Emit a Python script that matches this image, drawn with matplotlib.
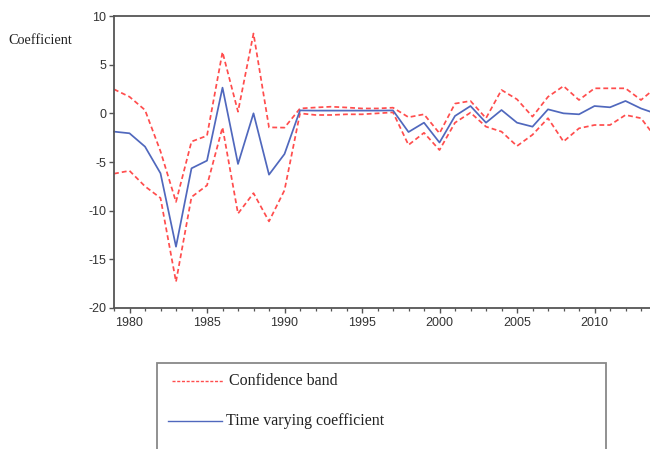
import matplotlib
matplotlib.use('Agg')
import matplotlib.pyplot as plt
from matplotlib.ticker import MultipleLocator
from matplotlib.lines import Line2D
from matplotlib.patches import Rectangle

plt.rcParams['lines.scale_dashes'] = False
plt.rcParams['axes.unicode_minus'] = False

years = list(range(1979, 2015))
coef = [-1.88, -2.05, -3.42, -6.16, -13.7, -5.65, -4.86, 2.64, -5.2, 0.0, -6.3, -4.18,
        0.3, 0.28, 0.28, 0.28, 0.28, 0.28, 0.3, -1.92, -0.96, -3.0,
        -0.27, 0.75, -0.96, 0.34, -0.96, -1.37, 0.41, 0.0, -0.1, 0.75,
        0.62, 1.27, 0.5, -0.05]
upper = [2.47, 1.7, 0.34, -3.9, -9.1, -2.9, -2.3, 6.3, 0.17, 8.2, -1.44, -1.47,
         0.5, 0.6, 0.68, 0.6, 0.5, 0.5, 0.58, -0.4, -0.1, -2.05,
         1.0, 1.27, -0.5, 2.4, 1.44, -0.34, 1.7, 2.8, 1.37, 2.57,
         2.57, 2.57, 1.37, 2.7]
lower = [-6.2, -5.9, -7.5, -8.7, -17.3, -8.6, -7.4, -1.44, -10.3, -8.2, -11.1, -7.9,
         0.0, -0.17, -0.17, -0.1, -0.1, 0.0, 0.1, -3.25, -2.0, -3.77,
         -0.96, 0.07, -1.37, -1.88, -3.36, -2.2, -0.5, -2.9, -1.54, -1.2,
         -1.2, -0.17, -0.5, -2.6]

RED = '#ff4d4d'
BLUE = '#5068bd'
SPINE = '#555555'
TXT = '#333333'
DASH = (3.5, 2.2)

W, H = 650, 449
fig = plt.figure(figsize=(W / 100, H / 100), dpi=100)
ax = fig.add_axes([114 / W, 141 / H, 542.5 / W, 292 / H])

ax.plot(years, upper, color=RED, lw=1.25, dashes=DASH, clip_on=False)
ax.plot(years, lower, color=RED, lw=1.25, dashes=DASH, clip_on=False)
ax.plot(years, coef, color=BLUE, lw=1.25, clip_on=False)

ax.set_xlim(1979, 2014)
ax.set_ylim(-20, 10)
ax.yaxis.set_major_locator(MultipleLocator(5))
ax.xaxis.set_major_locator(MultipleLocator(5))
ax.xaxis.set_minor_locator(MultipleLocator(1))

for s in ['left', 'top', 'bottom', 'right']:
    ax.spines[s].set_color(SPINE)
    ax.spines[s].set_linewidth(1.3)

tickfont = 'Liberation Sans'
ax.tick_params(axis='y', which='major', direction='out', length=3.5, width=1.0,
               color=SPINE, labelsize=9, labelcolor=TXT, pad=2)
ax.tick_params(axis='x', which='major', direction='out', length=3.8, width=1.0,
               color=SPINE, labelsize=9, labelcolor=TXT, pad=3)
ax.tick_params(axis='x', which='minor', direction='out', length=2.2, width=0.9,
               color=SPINE)
for lab in ax.get_xticklabels() + ax.get_yticklabels():
    lab.set_fontfamily(tickfont)

serif = 'Liberation Serif'
fig.text(8 / W, (H - 41) / H, 'Coefficient', family=serif, fontsize=10.3,
         color='#222222', ha='left', va='center')

# legend box
box = Rectangle((157 / W, (H - 462) / H), (605.7 - 157) / W, (462 - 362.5) / H,
                transform=fig.transFigure, facecolor='none', edgecolor='#888888',
                lw=1.3, clip_on=False)
fig.add_artist(box)
y1 = (H - 381) / H
y2 = (H - 421) / H
fig.add_artist(Line2D([172 / W, 223 / W], [y1, y1], transform=fig.transFigure,
                      color=RED, lw=1.0, dashes=(2.2, 1.2)))
fig.add_artist(Line2D([168 / W, 222 / W], [y2, y2], transform=fig.transFigure,
                      color=BLUE, lw=1.0))
fig.text(229 / W, y1, 'Confidence band', family=serif, fontsize=11.5,
         color='#222222', ha='left', va='center')
fig.text(226 / W, y2, 'Time varying coefficient', family=serif, fontsize=11.5,
         color='#222222', ha='left', va='center')

fig.savefig('out.png', dpi=100)
